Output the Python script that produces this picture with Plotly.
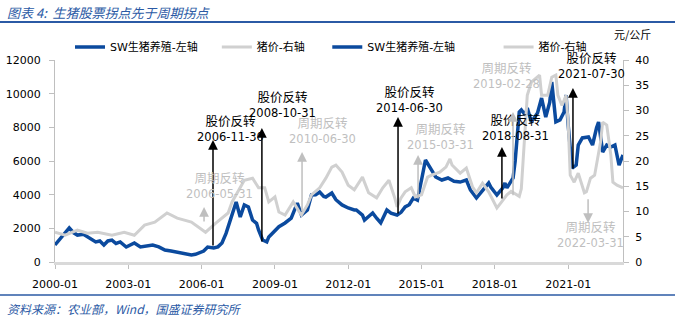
import plotly.graph_objects as go

# ---------------- data ----------------
sw_dates = ["2000-01","2000-03","2000-06","2000-08","2000-10","2000-12","2001-03","2001-05","2001-07","2001-09",
            "2001-11","2002-01","2002-03","2002-05","2002-07","2002-09","2002-12","2003-02","2003-04","2003-07",
            "2003-10","2004-01","2004-04","2004-07","2004-10","2005-01","2005-04","2005-06","2005-08","2005-10",
            "2005-12","2006-02","2006-04","2006-07","2006-09","2006-11","2007-01","2007-02","2007-04","2007-06",
            "2007-08","2007-10","2007-12","2008-02","2008-04","2008-05","2008-07","2008-09","2008-10","2009-01",
            "2009-03","2009-06","2009-09","2009-12","2010-02","2010-05","2010-07","2010-09","2010-11","2011-01",
            "2011-02","2011-05","2011-07","2011-10","2012-01","2012-04","2012-05","2012-08","2012-09","2012-11",
            "2013-01","2013-03","2013-05","2013-08","2013-10","2014-01","2014-03","2014-05","2014-07","2014-09",
            "2014-11","2015-01","2015-03","2015-06","2015-08","2015-11","2016-02","2016-05","2016-08","2016-11",
            "2017-01","2017-04","2017-07","2017-10","2017-11","2018-01","2018-02","2018-05","2018-06","2018-07",
            "2018-08","2018-10","2018-11","2018-12","2019-01","2019-02","2019-04","2019-05","2019-07","2019-10",
            "2019-12","2020-02","2020-04","2020-05","2020-07","2020-09","2020-11","2020-12","2021-01","2021-03",
            "2021-05","2021-06","2021-08","2021-11","2022-01","2022-03","2022-04","2022-06","2022-08","2022-10",
            "2022-12","2023-02","2023-04"]
sw_values = [1010,1300,1700,2020,1750,1600,1650,1490,1350,1190,
             1250,1010,1250,1300,1100,1190,890,1000,1130,890,
             950,1010,900,710,650,590,520,450,420,460,
             530,650,890,830,900,1130,1700,2080,2970,3560,
             2670,3390,3270,2490,2300,1900,1310,1190,1490,1900,
             2100,2320,2610,3500,2790,3090,3980,4000,4160,3900,
             3860,4100,3700,3390,3210,3090,3090,2790,2490,2700,
             2910,2600,2320,3090,2900,2790,2950,3270,3400,3800,
             3680,4870,6060,5460,5050,4870,4990,4800,4750,4870,
             4280,3800,4280,4690,4450,4160,3980,4400,4690,4400,
             4570,4990,6000,7370,8910,9030,8730,9150,8320,8850,
             9740,8610,9500,10690,8320,8440,8910,9920,8140,5580,
             5760,6950,7370,7430,6950,7960,8320,6530,6950,6830,
             6950,5760,6360]

price_dates = ["2000-01","2000-06","2000-12","2001-05","2001-10","2002-05","2002-11","2003-04","2003-09","2004-02",
               "2004-08","2005-01","2005-08","2005-12","2006-03","2006-08","2007-02","2007-04","2007-06","2007-10",
               "2008-02","2008-05","2008-08","2008-10","2009-01","2009-03","2009-06","2009-09","2009-10","2010-01",
               "2010-02","2010-05","2010-07","2010-11","2011-02","2011-05","2011-07","2011-10","2012-01","2012-04",
               "2012-08","2012-11","2013-03","2013-06","2013-09","2013-12","2014-01","2014-03","2014-05","2014-08",
               "2014-10","2015-01","2015-04","2015-06","2015-10","2016-01","2016-03","2016-04","2016-08","2016-11",
               "2017-02","2017-04","2017-07","2017-10","2018-02","2018-04","2018-07","2018-09","2018-11","2019-01",
               "2019-02","2019-03","2019-04","2019-05","2019-07","2019-09","2019-11","2019-12","2020-03","2020-05",
               "2020-07","2020-08","2020-10","2020-12","2021-01","2021-02","2021-04","2021-06","2021-09","2021-10",
               "2021-12","2022-02","2022-03","2022-05","2022-06","2022-08","2022-10","2022-11","2023-01","2023-04"]
price_values = [5.9,5.3,6.3,5.7,5.9,5.3,5.9,5.3,7.3,7.9,
                9.7,8.7,7.9,6.7,5.9,7.7,9.7,11.9,13.3,16.2,
                16.6,14.7,14.7,11.9,12.9,9.9,9.3,11.3,11.9,9.9,
                9.3,11.3,13.3,14.7,16.6,18.8,19.2,17.8,15.2,14.3,
                16.8,13.7,12.7,14.7,16.2,12.5,10.9,12.7,13.9,14.7,
                12.9,13.3,16.8,17.2,17.8,18.8,20.4,19.2,17.6,18.6,
                14.9,13.7,15.6,13.9,10.7,11.7,13.3,14.0,13.5,13.0,
                14.5,20.0,28.0,33.0,35.6,36.4,37.0,33.0,33.0,36.6,
                37.0,33.0,31.0,33.0,27.7,17.2,15.8,17.6,13.7,13.9,
                16.6,17.2,19.2,23.8,27.7,27.1,21.2,15.8,15.2,14.7]

series_names = ["SW生猪养殖-左轴", "猪价-右轴"]

# stock turning points (black): label, arrow x, arrow base, arrow tip (left axis), label x, label y
stock_labels = ["2006-11-30", "2008-10-31", "2014-06-30", "2018-08-31", "2021-07-30"]
stock_arrow_x = ["2006-06-20", "2008-06-20", "2014-01-15", "2018-04-17", "2021-03-14"]
stock_arrow_base = [890, 1130, 2790, 3680, 5470]
stock_arrow_tip = [7250, 7960, 8610, 6830, 10340]
stock_text_x = ["2007-03-01", "2009-05-01", "2014-07-10", "2018-11-13", "2021-12-10"]
stock_text_y = [7900, 9330, 9620, 7960, 11640]

# cycle turning points (grey): right axis
cycle_labels = ["2006-05-31", "2010-06-30", "2015-03-31", "2019-02-28", "2022-03-31"]
cycle_arrow_x = ["2006-02-06", "2010-02-10", "2014-11-10", "2018-09-30", "2021-10-26"]
cycle_arrow_base = [7.7, 9.7, 12.3, 12.9, 12.7]
cycle_arrow_tip = [10.9, 21.8, 21.2, 29.7, 7.7]
cycle_text_x = ["2006-10-01", "2010-12-20", "2015-10-05", "2018-07-01", "2021-11-25"]
cycle_text_y = [15.0, 25.9, 24.75, 36.8, 5.3]

# ---------------- layout constants ----------------
W, H = 675, 321
L, R, T, B = 55, 52, 60, 59
PW, PH = W - L - R, H - T - B


def px(xp):
    return (xp - L) / PW


def py(yp):
    return (H - B - yp) / PH


BLUE = "#0b4a9e"
GREY = "#d0d0d0"
TXTGREY = "#bfbfbf"
TITLEBLUE = "#2b5aa5"
NUMFONT = "DejaVu Sans, Noto Sans CJK SC"

fig = go.Figure()
fig.add_trace(go.Scatter(x=sw_dates, y=sw_values, name=series_names[0] + "\u00a0" * 4, mode="lines",
                         line=dict(color=BLUE, width=3.5), yaxis="y"))
fig.add_trace(go.Scatter(x=price_dates, y=price_values, name=series_names[1] + "\u00a0" * 5, mode="lines",
                         line=dict(color=GREY, width=3), yaxis="y2"))
# duplicated legend entries (as in the original)
fig.add_trace(go.Scatter(x=[None], y=[None], name=series_names[0] + "\u00a0" * 11, mode="lines",
                         line=dict(color=BLUE, width=3.5), yaxis="y"))
fig.add_trace(go.Scatter(x=[None], y=[None], name=series_names[1], mode="lines",
                         line=dict(color=GREY, width=3), yaxis="y2"))

annotations = []
for lab, ax_, b, t, tx, ty in zip(stock_labels, stock_arrow_x, stock_arrow_base, stock_arrow_tip,
                                   stock_text_x, stock_text_y):
    annotations.append(dict(x=ax_, y=t, ax=ax_, ay=b, xref="x", yref="y", axref="x", ayref="y",
                            text="", showarrow=True, arrowhead=2, arrowsize=1.3, arrowwidth=1.5,
                            arrowcolor="black"))
    annotations.append(dict(x=tx, y=ty, xref="x", yref="y", showarrow=False,
                            text="<span style='font-size:12.5px'>股价反转</span><br>" + lab,
                            font=dict(family=NUMFONT, size=11.5, color="black")))
for lab, ax_, b, t, tx, ty in zip(cycle_labels, cycle_arrow_x, cycle_arrow_base, cycle_arrow_tip,
                                   cycle_text_x, cycle_text_y):
    annotations.append(dict(x=ax_, y=t, ax=ax_, ay=b, xref="x", yref="y2", axref="x", ayref="y2",
                            text="", showarrow=True, arrowhead=2, arrowsize=1.3, arrowwidth=1.5,
                            arrowcolor=TXTGREY))
    annotations.append(dict(x=tx, y=ty, xref="x", yref="y2", showarrow=False,
                            text="<span style='font-size:12.5px'>周期反转</span><br>" + lab,
                            font=dict(family=NUMFONT, size=11.5, color=TXTGREY)))

annotations.append(dict(x=px(5), y=py(12), xref="paper", yref="paper", xanchor="left", yanchor="middle",
                        showarrow=False, text="<i>图表 4:  生猪股票拐点先于周期拐点</i>",
                        font=dict(family="Noto Sans CJK SC", size=13, color=TITLEBLUE)))
annotations.append(dict(x=px(5), y=py(308), xref="paper", yref="paper", xanchor="left", yanchor="middle",
                        showarrow=False, text="<i>资料来源：农业部，Wind，国盛证券研究所</i>",
                        font=dict(family="Noto Sans CJK SC", size=12, color=TITLEBLUE)))
annotations.append(dict(x=px(632), y=py(34), xref="paper", yref="paper", xanchor="center", yanchor="middle",
                        showarrow=False, text="元/公斤",
                        font=dict(family="Noto Sans CJK SC", size=11, color="black")))

shapes = [
    dict(type="line", xref="paper", yref="paper", x0=px(0), x1=px(W), y0=py(22), y1=py(22),
         line=dict(color=TITLEBLUE, width=2)),
    dict(type="line", xref="paper", yref="paper", x0=px(0), x1=px(W), y0=py(295), y1=py(295),
         line=dict(color=TITLEBLUE, width=1.5)),
]

fig.update_layout(
    width=W, height=H,
    margin=dict(l=L, r=R, t=T, b=B, pad=0, autoexpand=False),
    paper_bgcolor="white", plot_bgcolor="white",
    showlegend=True,
    legend=dict(orientation="h", x=px(70), y=py(47), xanchor="left", yanchor="middle",
                font=dict(family=NUMFONT, size=11, color="black"), bgcolor="rgba(0,0,0,0)",
                itemwidth=30, tracegroupgap=0),
    xaxis=dict(type="date", range=["2000-01-01", "2023-04-01"], tick0="2000-01-01", dtick="M36",
               tickformat="%Y-%m", showgrid=False, zeroline=False, showline=True, automargin=False,
               linecolor="#d9d9d9", linewidth=2.5, ticks="outside", ticklen=4, tickcolor="#bfbfbf",
               tickfont=dict(family=NUMFONT, size=11, color="black"), ticklabelstandoff=6),
    yaxis=dict(range=[0, 12000], dtick=2000, tickformat="d", showgrid=False, zeroline=False,
               showline=True, linecolor="#bfbfbf", linewidth=1, ticks="outside", ticklen=5,
               tickcolor="#bfbfbf", tickfont=dict(family=NUMFONT, size=11, color="black"),
               ticklabelstandoff=6, automargin=False),
    yaxis2=dict(range=[0, 40], dtick=5, tickformat="d", overlaying="y", side="right", showgrid=False,
                zeroline=False, showline=True, linecolor="#bfbfbf", linewidth=1, ticks="outside",
                ticklen=5, tickcolor="#bfbfbf", tickfont=dict(family=NUMFONT, size=11, color="black"),
                ticklabelstandoff=4, automargin=False),
    annotations=annotations,
    shapes=shapes,
    hovermode=False,
)

fig.write_html("out.html")
